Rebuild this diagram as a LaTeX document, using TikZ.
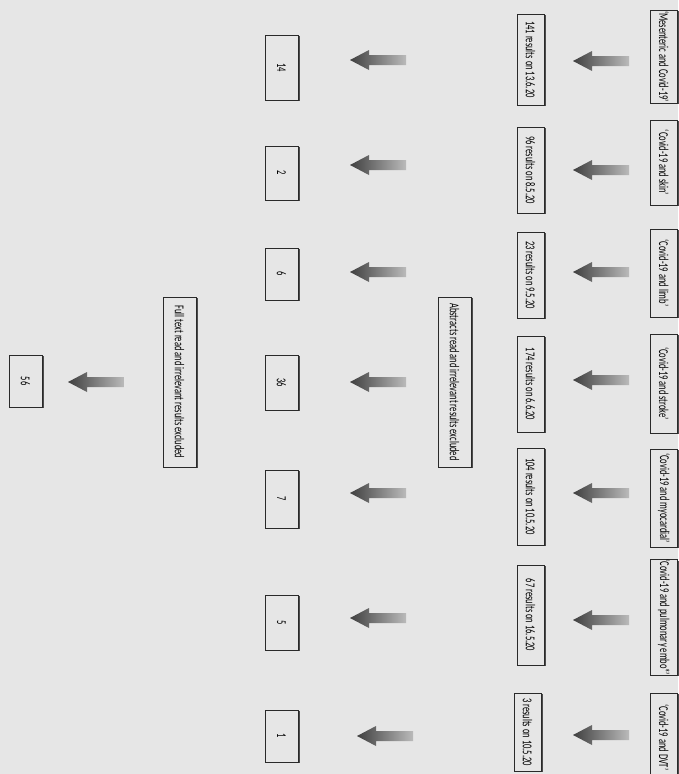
\documentclass[tikz,border=0pt]{standalone}
\usepackage{fontspec}
\setmainfont{Carlito}
\usetikzlibrary{shadows}
\definecolor{bg}{HTML}{E6E6E6}
\definecolor{edge}{HTML}{2A2A2A}
\newcommand{\vt}[1]{\rotatebox{-90}{\scalebox{0.63}[1]{#1}}}
\tikzset{
  box/.style={draw=edge, line width=0.8pt, fill=bg, inner sep=0pt,
    drop shadow={shadow xshift=1.6pt, shadow yshift=-1pt, fill=black!70, opacity=1},
    font=\fontsize{13.5}{13.5}\selectfont},
  sbox/.style={box, minimum width=27pt},
  rbox/.style={box, minimum width=27pt},
  cbox/.style={box, minimum width=33pt},
  arrowfill/.style={left color=black!75, right color=black!27, draw=none},
  barrow/.pic={\path[arrowfill] (0,0) -- (19,-10) -- (19,-5) -- (56,-5) -- (56,5) -- (19,5) -- (19,10) -- cycle;}
}
\begin{document}
\begin{tikzpicture}[x=1pt,y=-1pt]
\useasboundingbox (0,0) rectangle (678,774);
\fill[bg] (0,0) rectangle (678,774);

% search terms
\node[sbox, minimum height=93pt] (s1) at (664,56.5) {\vt{‘Mesenteric and Covid-19’}};
\node[sbox, minimum height=85pt] (s2) at (664,162.5) {\vt{‘Covid-19 and skin’}};
\node[sbox, minimum height=88pt] (s3) at (664,273) {\vt{‘Covid-19 and limb’}};
\node[sbox, minimum height=99pt] (s4) at (664,383.5) {\vt{‘Covid-19 and stroke’}};
\node[sbox, minimum height=98pt] (s5) at (664,498) {\vt{‘Covid-19 and myocardial’}};
\node[sbox, minimum height=111pt] (s6) at (664,617.5) {\vt{‘Covid-19 and pulmonary embo*’}};
\node[sbox, minimum height=89pt] (s7) at (664,737.5) {\vt{‘Covid-19 and DVT’}};

% arrows row 1
\coordinate (a11) at (573,61);
\coordinate (a12) at (573,170);
\coordinate (a13) at (573,272);
\coordinate (a14) at (573,380);
\coordinate (a15) at (573,493);
\coordinate (a16) at (573,620);
\coordinate (a17) at (573,735);
\foreach \i in {1,...,7} \pic at (a1\i) {barrow};

% results
\node[rbox, minimum height=91pt] (r1) at (530.5,59.5) {\vt{141 results on 13.6.20}};
\node[rbox, minimum height=86pt] (r2) at (530.5,170) {\vt{96 results on 8.5.20}};
\node[rbox, minimum height=86pt] (r3) at (530.5,275) {\vt{23 results on 9.5.20}};
\node[rbox, minimum height=96pt] (r4) at (530.5,384) {\vt{174 results on 6.6.20}};
\node[rbox, minimum height=97pt] (r5) at (530.5,496.5) {\vt{104 results on 10.5.20}};
\node[rbox, minimum height=100pt] (r6) at (530.5,615) {\vt{67 results on 16.5.20}};
\node[rbox, minimum height=78pt] (r7) at (527.5,732) {\vt{3 results on 10.5.20}};

\node[cbox, minimum height=170pt] (abs) at (454.5,382) {\vt{Abstracts read and irrelevant results excluded}};

% arrows row 2
\coordinate (a21) at (350,60);
\coordinate (a22) at (350,165);
\coordinate (a23) at (350,272);
\coordinate (a24) at (350,382);
\coordinate (a25) at (350,493);
\coordinate (a26) at (350,618);
\coordinate (a27) at (357,736);
\foreach \i in {1,...,7} \pic at (a2\i) {barrow};

% counts
\node[cbox, minimum height=65pt] (c1) at (281.5,67.5) {\vt{14}};
\node[cbox, minimum height=54pt] (c2) at (281.5,173) {\vt{2}};
\node[cbox, minimum height=52pt] (c3) at (281.5,274) {\vt{6}};
\node[cbox, minimum height=55pt] (c4) at (281.5,382.5) {\vt{36}};
\node[cbox, minimum height=58pt] (c5) at (281.5,499) {\vt{7}};
\node[cbox, minimum height=55pt] (c6) at (281.5,622.5) {\vt{5}};
\node[cbox, minimum height=52pt] (c7) at (281.5,736) {\vt{1}};

\node[cbox, minimum height=170pt] (full) at (179.5,382) {\vt{Full text read and irrelevant results excluded}};

\coordinate (a3) at (68,382);
\pic at (a3) {barrow};

\node[cbox, minimum height=52pt] (fin) at (25.5,381) {\vt{56}};
\end{tikzpicture}
\end{document}
